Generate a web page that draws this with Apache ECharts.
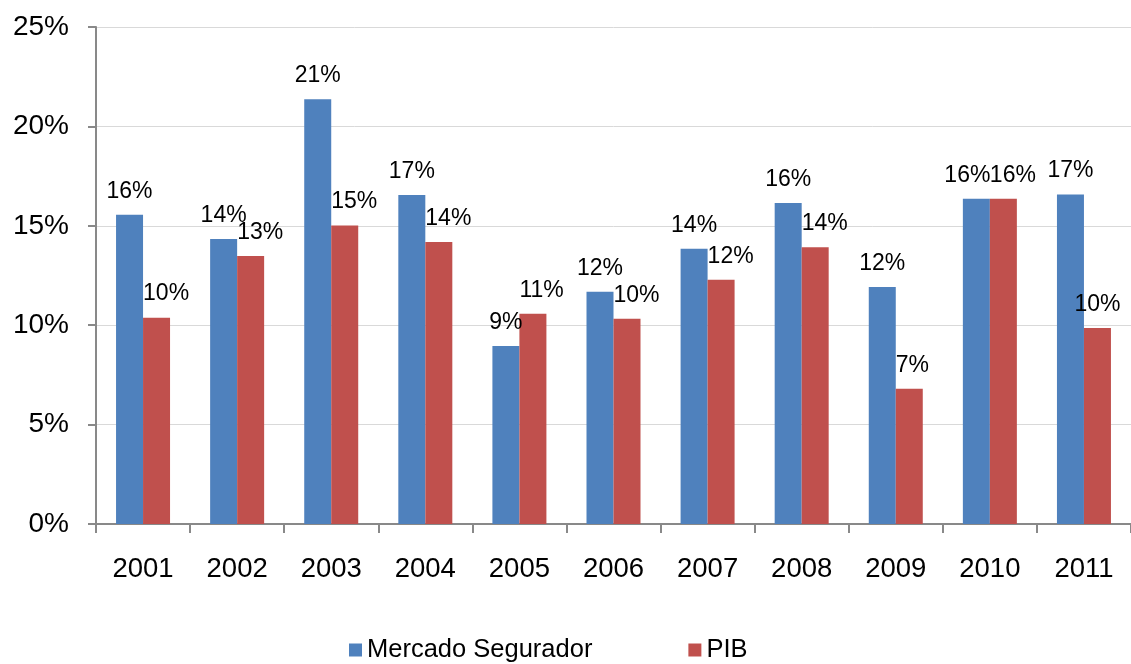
<!DOCTYPE html>
<html>
<head>
<meta charset="utf-8">
<script src="https://cdn.jsdelivr.net/npm/echarts@6/dist/echarts.min.js"></script>
<style>
  html, body { margin: 0; padding: 0; background: #fff; }
  #chart { width: 1131px; height: 664px; }
</style>
</head>
<body>
<div id="chart"></div>
<script>
// valores (%)
var anos = ['2001', '2002', '2003', '2004', '2005', '2006', '2007', '2008', '2009', '2010', '2011'];
var mercadoSegurador = [15.55, 14.34, 21.37, 16.55, 8.96, 11.68, 13.84, 16.15, 11.92, 16.36, 16.58];
var pib = [10.38, 13.48, 15.02, 14.19, 10.57, 10.32, 12.28, 13.92, 6.8, 16.36, 9.86];
var yTicks = [0, 5, 10, 15, 20, 25];

var fonte = 'Liberation Sans, Arial, sans-serif';

function pct(p) {
  return Math.round(p.value) + '%';
}

// rótulos azuis centrados; 2010 deslocado para não colidir
var dadosAzul = mercadoSegurador.map(function (v, i) {
  var item = { value: v };
  if (anos[i] === '2010') {
    item.label = { offset: [-9, 0] };
  }
  return item;
});

// rótulos vermelhos alinhados à esquerda da barra; 2011 cabe no limite
var dadosVermelho = pib.map(function (v, i) {
  var item = { value: v };
  if (anos[i] === '2011') {
    item.label = { align: 'center', offset: [0, 0] };
  }
  return item;
});

var chart = echarts.init(document.getElementById('chart'));

var option = {
  animation: false,
  textStyle: { fontFamily: fonte },
  grid: {
    left: 96,
    top: 27,
    width: 1044,
    height: 497,
    containLabel: false
  },
  legend: {
    left: 344,
    top: 632,
    itemWidth: 13,
    itemHeight: 13,
    itemGap: 96,
    icon: 'rect',
    textStyle: { fontSize: 25.5, color: '#000', fontFamily: fonte },
    data: ['Mercado Segurador', 'PIB']
  },
  xAxis: {
    type: 'category',
    data: anos,
    axisLine: { lineStyle: { color: '#898989', width: 2 } },
    axisTick: { show: true, length: 9, lineStyle: { color: '#898989', width: 2 } },
    axisLabel: { fontSize: 27.5, color: '#000', margin: 31, fontFamily: fonte },
    splitLine: { show: false }
  },
  yAxis: {
    type: 'value',
    min: 0,
    max: 25,
    interval: 5,
    axisLine: { show: true, lineStyle: { color: '#898989', width: 2 } },
    axisTick: { show: true, length: 8, lineStyle: { color: '#898989', width: 2 } },
    axisLabel: {
      fontSize: 28,
      color: '#000',
      margin: 27,
      padding: [8, 0, 0, 0],
      fontFamily: fonte,
      formatter: function (v) { return yTicks.indexOf(v) >= 0 ? v + '%' : ''; }
    },
    splitLine: { lineStyle: { color: '#d9d9d9', width: 1 } }
  },
  series: [
    {
      name: 'Mercado Segurador',
      type: 'bar',
      barWidth: 27,
      barGap: '0%',
      itemStyle: { color: '#4F81BD' },
      label: {
        show: true,
        position: 'top',
        distance: 12,
        fontSize: 23,
        color: '#000',
        fontFamily: fonte,
        formatter: pct
      },
      data: dadosAzul
    },
    {
      name: 'PIB',
      type: 'bar',
      barWidth: 27,
      itemStyle: { color: '#C0504D' },
      label: {
        show: true,
        position: 'top',
        distance: 12,
        align: 'left',
        offset: [-13.5, 0],
        fontSize: 23,
        color: '#000',
        fontFamily: fonte,
        formatter: pct
      },
      data: dadosVermelho
    }
  ]
};

chart.setOption(option);
</script>
</body>
</html>
